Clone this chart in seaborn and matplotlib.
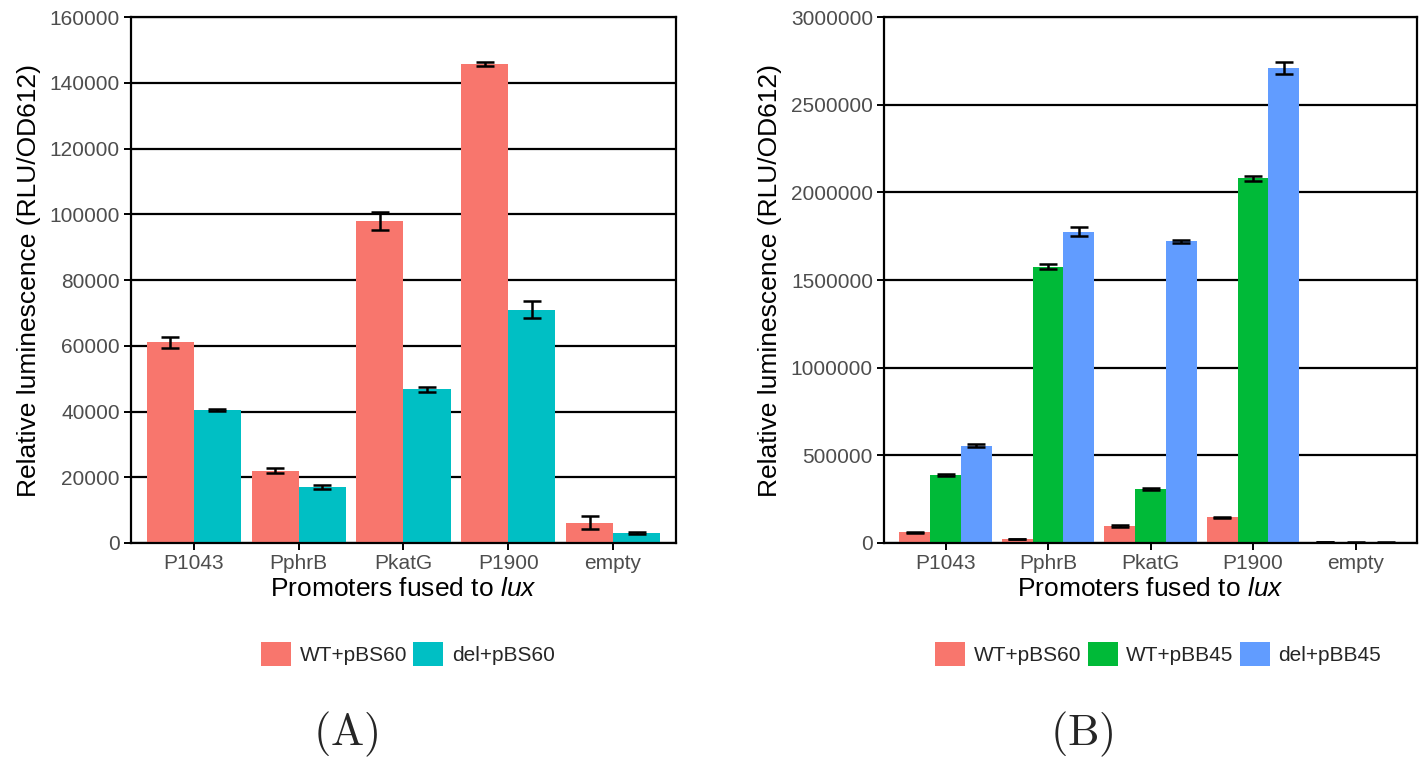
import pandas as pd
import matplotlib
matplotlib.use("Agg")
import matplotlib.pyplot as plt
import seaborn as sb
from matplotlib.patches import Patch

###################################################################################
# data
###################################################################################
promoters = ["P1043", "PphrB", "PkatG", "P1900", "empty"]

# panel A
wt_pbs60 = [61000, 22000, 98000, 145700, 6200]
wt_pbs60_err = [1800, 800, 2800, 700, 2000]
del_pbs60 = [40500, 17000, 46700, 71000, 3000]
del_pbs60_err = [300, 700, 900, 2500, 300]

# panel B
wt_pbb45 = [388000, 1575000, 310000, 2080000, 3000]
wt_pbb45_err = [5000, 15000, 5000, 15000, 1000]
del_pbb45 = [555000, 1775000, 1720000, 2710000, 3000]
del_pbb45_err = [7000, 25000, 10000, 35000, 1000]
wt_pbs60_b_err = [3000, 2000, 4000, 3000, 1000]

a_ticks = [0, 20000, 40000, 60000, 80000, 100000, 120000, 140000, 160000]
b_ticks = [0, 500000, 1000000, 1500000, 2000000, 2500000, 3000000]

colors_a = ["#F8766D", "#00BFC4"]
colors_b = ["#F8766D", "#00BA38", "#619CFF"]

###################################################################################
# build long tables
###################################################################################
def long_table(series):
    rows = []
    for name, vals, errs in series:
        for p, v, e in zip(promoters, vals, errs):
            rows.append({"Promoter": p, "Strain": name, "Value": v, "Err": e})
    return pd.DataFrame(rows)


df_a = long_table([("WT+pBS60", wt_pbs60, wt_pbs60_err),
                   ("del+pBS60", del_pbs60, del_pbs60_err)])
df_b = long_table([("WT+pBS60", wt_pbs60, wt_pbs60_b_err),
                   ("WT+pBB45", wt_pbb45, wt_pbb45_err),
                   ("del+pBB45", del_pbb45, del_pbb45_err)])

###################################################################################
# plotting
###################################################################################
sb.set_theme(style="white")
plt.rcParams["font.family"] = ["Liberation Sans", "DejaVu Sans"]
plt.rcParams["mathtext.fontset"] = "custom"
plt.rcParams["mathtext.it"] = "Liberation Sans:italic"
plt.rcParams["mathtext.rm"] = "Liberation Sans"

fig = plt.figure(figsize=(14.21, 7.57), dpi=100)
ax_a = fig.add_axes([0.0922, 0.2827, 0.3835, 0.6948])
ax_b = fig.add_axes([0.6221, 0.2827, 0.3751, 0.6948])


def draw_panel(ax, df, colors, ticks, letter, legend_x, letter_x):
    levels = list(df["Strain"].unique())
    sb.barplot(data=df, x="Promoter", y="Value", hue="Strain", order=promoters,
               hue_order=levels, palette=colors, width=0.9, gap=0,
               errorbar=None, saturation=1, legend=False, ax=ax, zorder=3)
    # error bars at bar centres
    for cont, lev in zip(ax.containers, levels):
        sub = df[df["Strain"] == lev].set_index("Promoter").loc[promoters]
        xs = [b.get_x() + b.get_width() / 2 for b in cont]
        ax.errorbar(xs, sub["Value"], yerr=sub["Err"], fmt="none", ecolor="black",
                    elinewidth=1.8, capsize=6.5, capthick=1.8, zorder=4)
    for b in ax.patches:
        b.set_linewidth(0)

    ax.set_xlim(-0.6, 4.6)
    ax.set_ylim(ticks[0], ticks[-1])
    ax.set_yticks(ticks)
    ax.set_yticklabels([str(t) for t in ticks])
    ax.yaxis.grid(True, color="black", linewidth=1.6, zorder=1)
    ax.set_axisbelow(True)
    for s in ax.spines.values():
        s.set_color("black")
        s.set_linewidth(1.6)
        s.set_zorder(5)
    ax.tick_params(axis="both", direction="out", length=5, width=1.4, color="black",
                   labelsize=15, labelcolor="#4D4D4D", left=True, bottom=True, pad=3)
    ax.set_ylabel("Relative luminescence (RLU/OD612)", fontsize=19, color="black", labelpad=6)
    ax.set_xlabel("Promoters fused to $\\it{lux}$", fontsize=19, color="black", labelpad=3)

    handles = [Patch(facecolor=c, edgecolor="none") for c in colors]
    fig.legend(handles, levels, loc="center", bbox_to_anchor=(legend_x, 0.136),
               ncol=len(levels), frameon=False, fontsize=15, handlelength=1.45,
               handleheight=1.45, handletextpad=0.4, columnspacing=0.3)
    fig.text(letter_x, 0.03, "$\\mathrm{(" + letter + ")}$", fontsize=32,
             ha="center", va="center", math_fontfamily="cm")


draw_panel(ax_a, df_a, colors_a, a_ticks, "A", 0.287, 0.243)
draw_panel(ax_b, df_b, colors_b, b_ticks, "B", 0.815, 0.761)

plt.savefig("out.png", dpi=100)
